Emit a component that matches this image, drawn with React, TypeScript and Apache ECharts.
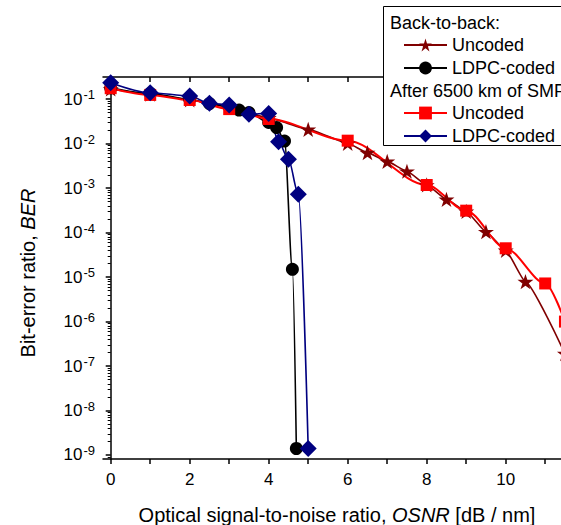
import React, { useEffect, useRef } from "react";
import * as echarts from "echarts";

// ---- Data (OSNR in dB/nm, BER values) ----
const osnrB2BUncoded = [0, 1, 2, 3, 4, 5, 6, 6.5, 7, 7.5, 8, 8.5, 9, 9.5, 10, 10.5, 11.5];
const berB2BUncoded = [0.17, 0.13, 0.097, 0.066, 0.038, 0.021, 0.0102, 0.0063, 0.004, 0.0024, 0.00118, 0.00056, 0.0003, 0.000105, 0.00004, 0.0000079, 1.9e-7];

const osnrB2BLdpc = [0, 1, 2, 2.5, 3, 3.25, 3.5, 4, 4.2, 4.4, 4.6, 4.7];
const berB2BLdpc = [0.18, 0.135, 0.1, 0.08, 0.068, 0.057, 0.05, 0.03, 0.023, 0.0115, 1.5e-5, 1.4e-9];

const osnrSmfUncoded = [0, 1, 2, 3, 4, 6, 8, 9, 10, 11, 11.5];
const berSmfUncoded = [0.177, 0.125, 0.096, 0.06, 0.036, 0.0117, 0.00118, 0.000312, 0.0000445, 0.0000072, 1.0e-6];

const osnrSmfLdpc = [0, 1, 2, 2.5, 3, 3.5, 4, 4.25, 4.5, 4.75, 5];
const berSmfLdpc = [0.236, 0.14, 0.119, 0.081, 0.0745, 0.046, 0.048, 0.0111, 0.00447, 0.00073, 1.4e-9];

const seriesNames = ["B2B Uncoded", "B2B LDPC-coded", "SMF Uncoded", "SMF LDPC-coded"];
const legendLabels = ["Uncoded", "LDPC-coded", "Uncoded", "LDPC-coded"];
const legendHeaders = ["Back-to-back:", "After 6500 km of SMF"];

const xTickValues = [0, 1, 2, 3, 4, 5, 6, 7, 8, 9, 10, 11];
const xLabelValues = [0, 2, 4, 6, 8, 10];
const yDecades = [-9, -8, -7, -6, -5, -4, -3, -2, -1];

const xTitle = "Optical signal-to-noise ratio, ";
const xTitleItalic = "OSNR";
const xTitleUnit = " [dB / nm]";
const yTitle = "Bit-error ratio, ";
const yTitleItalic = "BER";

const FONT = '"Liberation Sans", Arial, sans-serif';
const X_MIN = -0.195;
const X_MAX = 11.4;
const Y_MIN = -9.09;
const Y_MAX = -0.5;

const STAR =
  "path://M50,0 L61.2,34.5 L97.6,34.5 L68.2,55.9 L79.4,90.5 L50,69.1 L20.6,90.5 L31.8,55.9 L2.4,34.5 L38.8,34.5 Z";

function pairs(xs: number[], ys: number[]) {
  return xs.map((x, i) => [x, Math.log10(ys[i])]);
}

function minorTicks() {
  const out: number[] = [];
  for (let e = -10; e <= 0; e++) {
    for (let k = 2; k <= 9; k++) {
      const v = e + Math.log10(k);
      if (v > Y_MIN && v < Y_MAX) out.push(v);
    }
  }
  return out;
}

export default function App() {
  const ref = useRef<HTMLDivElement>(null);

  useEffect(() => {
    if (!ref.current) return;
    const chart = echarts.init(ref.current, undefined, { renderer: "svg" });
    const axisLineStyle = { color: "#000", width: 1.5 };
    const legendCommon = {
      orient: "vertical",
      left: 403,
      padding: 0,
      itemWidth: 43,
      itemHeight: 16,
      itemGap: 5,
      z: 20,
      textStyle: { fontSize: 18, fontFamily: FONT, color: "#000" },
      formatter: (n: string) => legendLabels[seriesNames.indexOf(n)],
    };

    const option: any = {
      animation: false,
      backgroundColor: "#fff",
      grid: { left: 103, right: 0, top: 77, bottom: 66, containLabel: false, outerBoundsMode: "none" },
      xAxis: [
        {
          type: "value",
          position: "bottom",
          min: X_MIN,
          max: X_MAX,
          axisLine: { lineStyle: axisLineStyle },
          axisTick: { inside: false, length: 5, customValues: xTickValues, lineStyle: axisLineStyle },
          axisLabel: { customValues: xLabelValues, margin: 12, fontSize: 17, color: "#000", fontFamily: FONT },
          splitLine: { show: false },
          name: xTitle + "{i|" + xTitleItalic + "}" + xTitleUnit,
          nameLocation: "middle",
          nameGap: 46,
          nameTextStyle: {
            fontSize: 20,
            color: "#000",
            fontFamily: FONT,
            padding: [0, 0, 0, 10],
            rich: { i: { fontSize: 20, fontStyle: "italic", color: "#000", fontFamily: FONT } },
          },
        },
        {
          type: "value",
          position: "top",
          min: X_MIN,
          max: X_MAX,
          axisLine: { lineStyle: axisLineStyle },
          axisTick: { inside: true, length: 5, customValues: xTickValues, lineStyle: axisLineStyle },
          axisLabel: { show: false },
          splitLine: { show: false },
        },
      ],
      yAxis: [
        {
          type: "value",
          position: "left",
          min: Y_MIN,
          max: Y_MAX,
          axisLine: { lineStyle: axisLineStyle },
          axisTick: { inside: false, length: 5, customValues: yDecades, lineStyle: axisLineStyle },
          axisLabel: {
            customValues: yDecades,
            margin: 8,
            color: "#000",
            formatter: (v: number) => "{b|10}{s|" + Math.round(v) + "}",
            rich: {
              b: { fontSize: 17, fontFamily: FONT, color: "#000", lineHeight: 22 },
              s: { fontSize: 13, fontFamily: FONT, color: "#000", verticalAlign: "top", lineHeight: 13, padding: [0, 0, 0, 1] },
            },
          },
          splitLine: { show: false },
          name: yTitle + "{i|" + yTitleItalic + "}",
          nameLocation: "middle",
          nameGap: 65,
          nameRotate: 90,
          nameTextStyle: {
            fontSize: 20,
            color: "#000",
            fontFamily: FONT,
            padding: [0, 10, 0, 0],
            rich: { i: { fontSize: 20, fontStyle: "italic", color: "#000", fontFamily: FONT } },
          },
        },
        {
          type: "value",
          position: "left",
          min: Y_MIN,
          max: Y_MAX,
          axisLine: { show: false },
          axisTick: { inside: false, length: 3, customValues: minorTicks(), lineStyle: { color: "#000", width: 1 } },
          axisLabel: { show: false },
          splitLine: { show: false },
        },
      ],
      legend: [
        { ...legendCommon, data: [seriesNames[0], seriesNames[1]], top: 36 },
        { ...legendCommon, data: [seriesNames[2], seriesNames[3]], top: 104 },
      ],
      graphic: [
        {
          type: "rect",
          z: 10,
          shape: { x: 383.5, y: 6.5, width: 200, height: 139 },
          style: { fill: "#fff", stroke: "#000", lineWidth: 1 },
        },
        {
          type: "text",
          z: 21,
          x: 390,
          y: 23,
          style: { text: legendHeaders[0], fontSize: 18, fontFamily: FONT, fill: "#000", verticalAlign: "middle" },
        },
        {
          type: "text",
          z: 21,
          x: 390,
          y: 91,
          style: { text: legendHeaders[1], fontSize: 18, fontFamily: FONT, fill: "#000", verticalAlign: "middle" },
        },
      ],
      series: [
        {
          name: seriesNames[0],
          type: "line",
          data: pairs(osnrB2BUncoded, berB2BUncoded),
          symbol: STAR,
          symbolSize: 16,
          symbolKeepAspect: true,
          smooth: 0.15,
          smoothMonotone: "x",
          clip: false,
          color: "#800000",
          lineStyle: { color: "#800000", width: 1.6 },
          itemStyle: { color: "#800000" },
        },
        {
          name: seriesNames[1],
          type: "line",
          data: pairs(osnrB2BLdpc, berB2BLdpc),
          symbol: "circle",
          symbolSize: 13,
          smooth: 0.3,
          smoothMonotone: "x",
          clip: false,
          color: "#000",
          lineStyle: { color: "#000", width: 1.6 },
          itemStyle: { color: "#000" },
        },
        {
          name: seriesNames[2],
          type: "line",
          data: pairs(osnrSmfUncoded, berSmfUncoded),
          symbol: "rect",
          symbolSize: 12,
          smooth: 0.3,
          smoothMonotone: "x",
          clip: false,
          color: "#ff0000",
          lineStyle: { color: "#ff0000", width: 2 },
          itemStyle: { color: "#ff0000" },
        },
        {
          name: seriesNames[3],
          type: "line",
          data: pairs(osnrSmfLdpc, berSmfLdpc),
          symbol: "diamond",
          symbolSize: 17,
          smooth: 0.3,
          smoothMonotone: "x",
          clip: false,
          color: "#000080",
          lineStyle: { color: "#000080", width: 1.6 },
          itemStyle: { color: "#000080" },
        },
      ],
    };

    chart.setOption(option);
    return () => chart.dispose();
  }, []);

  return (
    <div
      ref={ref}
      style={{ position: "fixed", left: 0, top: 0, width: 561, height: 525, background: "#fff" }}
    />
  );
}
